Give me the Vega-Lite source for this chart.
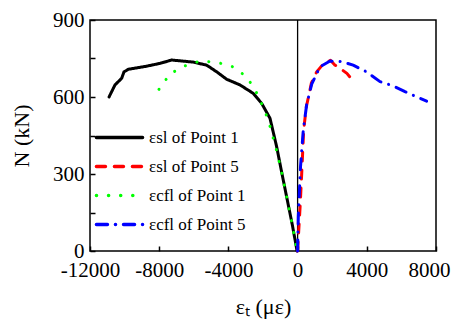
{
  "$schema": "https://vega.github.io/schema/vega-lite/v6.json",
  "width": 346,
  "height": 231,
  "autosize": {"type": "none"},
  "padding": {"left": 90, "top": 20, "right": 16, "bottom": 75},
  "config": {
    "view": {"stroke": "black", "strokeWidth": 1.5},
    "font": "Liberation Serif",
    "axis": {
      "domain": false,
      "grid": false,
      "labelFont": "Liberation Serif",
      "labelFontSize": 21,
      "labelColor": "black",
      "labelOverlap": false,
      "labelBound": false,
      "labelFlush": false,
      "ticks": true,
      "tickColor": "black",
      "tickOpacity": 1,
      "tickWidth": 1.5,
      "titleFont": "Liberation Serif",
      "titleFontSize": 22,
      "titleFontWeight": "normal",
      "titleColor": "black"
    },
    "legend": {
      "labelFont": "Liberation Serif",
      "labelFontSize": 17,
      "labelColor": "black"
    }
  },
  "datasets": {
    "curves": [
      {"series": "εsl of Point 1", "strain": -10900, "N": 600},
      {"series": "εsl of Point 1", "strain": -10555, "N": 647},
      {"series": "εsl of Point 1", "strain": -10168, "N": 673},
      {"series": "εsl of Point 1", "strain": -10035, "N": 698},
      {"series": "εsl of Point 1", "strain": -9786, "N": 708},
      {"series": "εsl of Point 1", "strain": -8728, "N": 720},
      {"series": "εsl of Point 1", "strain": -7954, "N": 731},
      {"series": "εsl of Point 1", "strain": -7277, "N": 744},
      {"series": "εsl of Point 1", "strain": -6029, "N": 736},
      {"series": "εsl of Point 1", "strain": -5256, "N": 724},
      {"series": "εsl of Point 1", "strain": -4676, "N": 698},
      {"series": "εsl of Point 1", "strain": -4098, "N": 669},
      {"series": "εsl of Point 1", "strain": -3329, "N": 647},
      {"series": "εsl of Point 1", "strain": -2560, "N": 614},
      {"series": "εsl of Point 1", "strain": -2077, "N": 575},
      {"series": "εsl of Point 1", "strain": -1595, "N": 517},
      {"series": "εsl of Point 1", "strain": -1210, "N": 406},
      {"series": "εsl of Point 1", "strain": -900, "N": 300},
      {"series": "εsl of Point 1", "strain": -600, "N": 200},
      {"series": "εsl of Point 1", "strain": -300, "N": 100},
      {"series": "εsl of Point 1", "strain": -30, "N": 0},

      {"series": "εsl of Point 5", "strain": 0, "N": 0},
      {"series": "εsl of Point 5", "strain": 50, "N": 60},
      {"series": "εsl of Point 5", "strain": 150, "N": 180},
      {"series": "εsl of Point 5", "strain": 250, "N": 320},
      {"series": "εsl of Point 5", "strain": 350, "N": 470},
      {"series": "εsl of Point 5", "strain": 500, "N": 560},
      {"series": "εsl of Point 5", "strain": 800, "N": 655},
      {"series": "εsl of Point 5", "strain": 1100, "N": 698},
      {"series": "εsl of Point 5", "strain": 1500, "N": 730},
      {"series": "εsl of Point 5", "strain": 1900, "N": 743},
      {"series": "εsl of Point 5", "strain": 2150, "N": 725},
      {"series": "εsl of Point 5", "strain": 2450, "N": 712},
      {"series": "εsl of Point 5", "strain": 2850, "N": 692},
      {"series": "εsl of Point 5", "strain": 3150, "N": 668},

      {"series": "εcfl of Point 1", "strain": -8012, "N": 630},
      {"series": "εcfl of Point 1", "strain": -7376, "N": 690},
      {"series": "εcfl of Point 1", "strain": -6566, "N": 720},
      {"series": "εcfl of Point 1", "strain": -5642, "N": 740},
      {"series": "εcfl of Point 1", "strain": -4717, "N": 736},
      {"series": "εcfl of Point 1", "strain": -3809, "N": 720},
      {"series": "εcfl of Point 1", "strain": -2942, "N": 679},
      {"series": "εcfl of Point 1", "strain": -2405, "N": 621},
      {"series": "εcfl of Point 1", "strain": -2017, "N": 565},
      {"series": "εcfl of Point 1", "strain": -1694, "N": 510},
      {"series": "εcfl of Point 1", "strain": -1249, "N": 400},
      {"series": "εcfl of Point 1", "strain": -900, "N": 300},
      {"series": "εcfl of Point 1", "strain": -600, "N": 200},
      {"series": "εcfl of Point 1", "strain": -300, "N": 100},
      {"series": "εcfl of Point 1", "strain": -30, "N": 0},

      {"series": "εcfl of Point 5", "strain": 0, "N": 0},
      {"series": "εcfl of Point 5", "strain": 40, "N": 134},
      {"series": "εcfl of Point 5", "strain": 170, "N": 330},
      {"series": "εcfl of Point 5", "strain": 329, "N": 471},
      {"series": "εcfl of Point 5", "strain": 520, "N": 569},
      {"series": "εcfl of Point 5", "strain": 815, "N": 650},
      {"series": "εcfl of Point 5", "strain": 1297, "N": 718},
      {"series": "εcfl of Point 5", "strain": 1875, "N": 740},
      {"series": "εcfl of Point 5", "strain": 2540, "N": 738},
      {"series": "εcfl of Point 5", "strain": 3213, "N": 724},
      {"series": "εcfl of Point 5", "strain": 3984, "N": 698},
      {"series": "εcfl of Point 5", "strain": 4763, "N": 660},
      {"series": "εcfl of Point 5", "strain": 5532, "N": 643},
      {"series": "εcfl of Point 5", "strain": 6208, "N": 621},
      {"series": "εcfl of Point 5", "strain": 6879, "N": 601},
      {"series": "εcfl of Point 5", "strain": 7457, "N": 584}
    ]
  },
  "layer": [
    {
      "data": {"values": [{"zero": 0}]},
      "mark": {"type": "rule", "color": "black", "strokeWidth": 1.3},
      "encoding": {
        "x": {"field": "zero", "type": "quantitative", "scale": {"domain": [-12000, 8000], "nice": false}}
      }
    },
    {
      "data": {"name": "curves"},
      "mark": {"type": "line", "strokeWidth": 3, "strokeCap": "round", "strokeJoin": "round"},
      "encoding": {
        "x": {
          "field": "strain",
          "type": "quantitative",
          "scale": {"domain": [-12000, 8000], "nice": false},
          "axis": {
            "title": "εₜ (με)",
            "values": [-12000, -10000, -8000, -6000, -4000, -2000, 0, 2000, 4000, 6000, 8000],
            "labelExpr": "datum.value % 4000 === 0 ? '' + datum.value : ''",
            "labelOffset": {"condition": {"test": "datum.value === 8000", "value": -7}, "value": 0},
            "tickSize": 5,
            "offset": -5,
            "labelPadding": 8,
            "titlePadding": 16
          }
        },
        "y": {
          "field": "N",
          "type": "quantitative",
          "scale": {"domain": [0, 900], "nice": false},
          "axis": {
            "title": "N (kN)",
            "values": [0, 150, 300, 450, 600, 750, 900],
            "labelExpr": "datum.value % 300 === 0 ? '' + datum.value : ''",
            "tickSize": 5,
            "offset": -5,
            "labelPadding": 6,
            "titlePadding": 19
          }
        },
        "color": {
          "field": "series",
          "type": "nominal",
          "scale": {
            "domain": ["εsl of Point 1", "εsl of Point 5", "εcfl of Point 1", "εcfl of Point 5"],
            "range": ["#000000", "#ff0000", "#00ff00", "#0000ff"]
          },
          "legend": {
            "title": null,
            "orient": "none",
            "legendX": 21,
            "legendY": 109,
            "padding": 0,
            "symbolType": "M-4,0H4",
            "symbolSize": 133,
            "symbolStrokeWidth": 3.5,
            "symbolFillColor": "transparent",
            "rowPadding": 11,
            "labelOffset": 21,
            "encode": {"symbols": {"update": {"strokeCap": {"value": "round"}}}}
          }
        },
        "strokeDash": {
          "field": "series",
          "type": "nominal",
          "scale": {
            "domain": ["εsl of Point 1", "εsl of Point 5", "εcfl of Point 1", "εcfl of Point 5"],
            "range": [[1, 0], [9, 9], [0.1, 12], [11, 8, 0.1, 8]]
          },
          "legend": {
            "title": null,
            "orient": "none",
            "legendX": 21,
            "legendY": 109,
            "padding": 0,
            "symbolType": "M-4,0H4",
            "symbolSize": 133,
            "symbolStrokeWidth": 3.5,
            "symbolFillColor": "transparent",
            "rowPadding": 11,
            "labelOffset": 21,
            "encode": {"symbols": {"update": {"strokeCap": {"value": "round"}}}}
          }
        }
      }
    }
  ]
}
